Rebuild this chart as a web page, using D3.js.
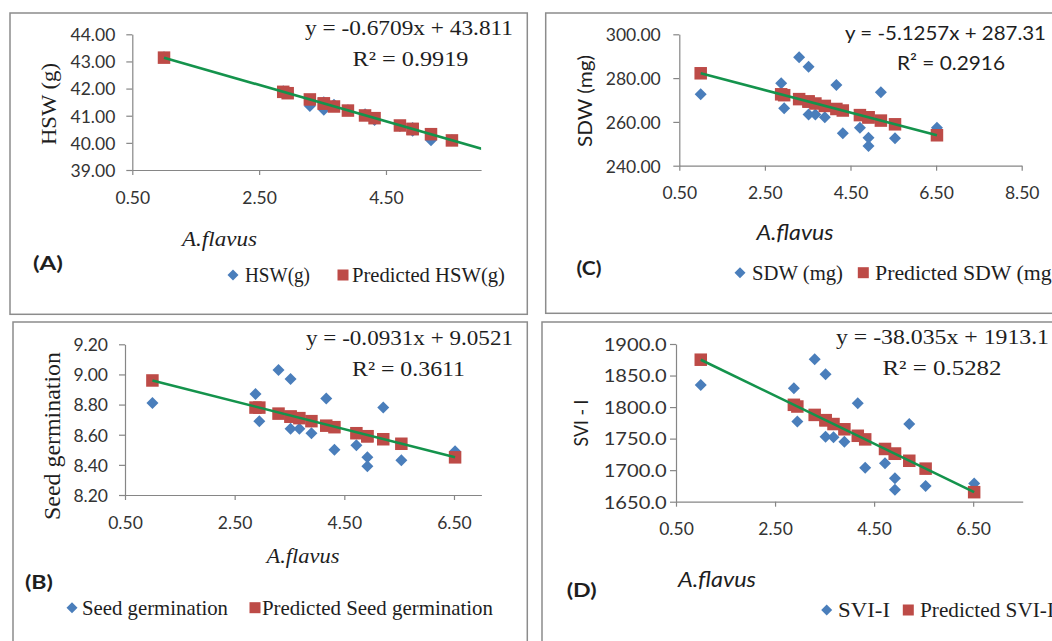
<!DOCTYPE html>
<html><head><meta charset="utf-8">
<script src="https://cdn.jsdelivr.net/npm/d3@7"></script>
<style>body{margin:0;background:#fff;overflow:hidden} svg{display:block}</style>
</head><body><svg id="c" width="1052" height="641"></svg>
<script>
// ---- data ----
const xFlavus = [1.00, 2.88, 2.95, 3.30, 3.52, 3.52, 3.68, 3.90, 4.17, 4.32, 4.72, 4.92, 4.92, 5.21, 5.54, 6.52];

const hswObserved  = [43.15, 41.90, 41.85, 41.36, 41.50, 41.22, 41.40, 41.20, 41.05, 40.84, 40.62, 40.55, 40.45, 40.10, 40.10, 39.45];
const hswPredicted = [43.14, 41.88, 41.83, 41.60, 41.45, 41.45, 41.34, 41.19, 41.01, 40.91, 40.64, 40.51, 40.51, 40.32, 40.09, 39.44];
const hswTrend     = [43.14, 39.44];

const germObserved  = [8.81, 8.87, 8.69, 9.03, 8.97, 8.64, 8.64, 8.61, 8.84, 8.50, 8.53, 8.45, 8.39, 8.78, 8.43, 8.49];
const germPredicted = [8.96, 8.78, 8.78, 8.74, 8.72, 8.72, 8.71, 8.69, 8.66, 8.65, 8.61, 8.59, 8.59, 8.57, 8.54, 8.45];
const germTrend     = [8.96, 8.45];

const sdwObserved  = [272.6, 277.6, 266.2, 289.5, 285.2, 263.4, 263.4, 262.1, 276.8, 254.8, 257.3, 252.8, 249.0, 273.5, 252.5, 257.3];
const sdwPredicted = [282.2, 272.6, 272.2, 270.4, 269.3, 269.3, 268.4, 267.3, 265.9, 265.2, 263.1, 262.1, 262.1, 260.6, 258.9, 253.9];
const sdwTrend     = [282.2, 253.9];

const sviObserved  = [1835, 1830, 1777, 1876, 1852, 1753, 1752, 1745, 1806, 1704, 1711, 1687, 1669, 1773, 1675, 1679];
const sviPredicted = [1875.1, 1803.6, 1800.9, 1787.6, 1779.2, 1779.2, 1773.1, 1764.8, 1754.5, 1748.8, 1733.6, 1726.0, 1726.0, 1714.9, 1702.4, 1665.1];
const sviTrend     = [1875.1, 1665.1];
const trendX       = [1.00, 6.52];

const hswTicks  = [39, 40, 41, 42, 43, 44];
const germTicks = [8.2, 8.4, 8.6, 8.8, 9.0, 9.2];
const sdwTicks  = [240, 260, 280, 300];
const sviTicks  = [1650, 1700, 1750, 1800, 1850, 1900];
const xTicksA = [0.5, 2.5, 4.5];
const xTicksB = [0.5, 2.5, 4.5, 6.5];
const xTicksC = [0.5, 2.5, 4.5, 6.5, 8.5];
const xTicksD = [0.5, 2.5, 4.5, 6.5];

// ---- styles ----
const SERIF = "'Liberation Serif','Times New Roman',serif";
const SANS = "Lato,'Open Sans',sans-serif";
const BLUE = "#4a7ebb", RED = "#bd4b47", GREEN = "#14934c", AXIS = "#868686";

const svg = d3.select("#c");

const panels = [
 {box:[10,13,527.3,314.3], xr:[132.3,481.1], yr:[170,34.3], xd:[0.5,6.0], yd:[39,44],
  xt:xTicksA, yt:hswTicks, yfmt:d3.format(".2f"), ypad:11, xlab:28,
  obs:hswObserved, pred:hswPredicted, trend:hswTrend,
  texts:[
   {t:"y = -0.6709x + 43.811", x:513, y:27, a:"end", f:SERIF, s:22, w:208},
   {t:"R² = 0.9919", x:410.5, y:58, a:"middle", f:SERIF, s:22, w:116},
   {t:"HSW (g)", x:48, y:104, a:"middle", f:SERIF, s:22, rot:true, w:82},
   {t:"A.flavus", x:219.5, y:238, a:"middle", f:SERIF, s:22, it:true, w:75},
   {t:"(A)", x:48, y:263, a:"middle", f:SANS, s:19, b:true, w:30},
   {t:"HSW(g)", x:245, y:275, a:"start", f:SERIF, s:21, w:65},
   {t:"Predicted HSW(g)", x:352, y:275, a:"start", f:SERIF, s:21, w:153}
  ], leg:[233,275,343]},
 {box:[13,322,527.3,660], xr:[125,481.4], yr:[495,344.3], xd:[0.5,7.0], yd:[8.2,9.2],
  xt:xTicksB, yt:germTicks, yfmt:d3.format(".2f"), ypad:11, xlab:28,
  obs:germObserved, pred:germPredicted, trend:germTrend,
  texts:[
   {t:"y = -0.0931x + 9.0521", x:513, y:337, a:"end", f:SERIF, s:22, w:207},
   {t:"R² = 0.3611", x:408.5, y:368, a:"middle", f:SERIF, s:22, w:113},
   {t:"Seed germination", x:52, y:436, a:"middle", f:SERIF, s:23.5, rot:true, w:168},
   {t:"A.flavus", x:303, y:555, a:"middle", f:SERIF, s:22, it:true, w:73},
   {t:"(B)", x:39, y:582, a:"middle", f:SANS, s:19, b:true, w:28},
   {t:"Seed germination", x:82, y:607.7, a:"start", f:SERIF, s:21, w:146},
   {t:"Predicted Seed germination", x:262, y:607.7, a:"start", f:SERIF, s:21, w:231}
  ], leg:[72,607.7,255]},
 {box:[545.7,13,1060,313.3], xr:[679.3,1021.7], yr:[165.7,34.3], xd:[0.5,8.5], yd:[240,300],
  xt:xTicksC, yt:sdwTicks, yfmt:d3.format(".2f"), ypad:12.6, xlab:27,
  obs:sdwObserved, pred:sdwPredicted, trend:sdwTrend,
  texts:[
   {t:"y = -5.1257x + 287.31", x:845, y:33, a:"start", f:SANS, s:20, w:201},
   {t:"R² = 0.2916", x:951, y:63, a:"middle", f:SANS, s:20, w:108},
   {t:"SDW (mg)", x:585, y:101, a:"middle", f:SANS, s:20, rot:true, w:92},
   {t:"A.flavus", x:795, y:233, a:"middle", f:SANS, s:21, it:true, w:77},
   {t:"(C)", x:589, y:268, a:"middle", f:SANS, s:19, b:true, w:25},
   {t:"SDW (mg)", x:752, y:272.7, a:"start", f:SERIF, s:21, w:91},
   {t:"Predicted SDW (mg)", x:875, y:272.7, a:"start", f:SERIF, s:21, w:184}
  ], leg:[740,272.7,863.3]},
 {box:[542,322,1060,660], xr:[676,1022.7], yr:[501.7,344], xd:[0.5,7.5], yd:[1650,1900],
  xt:xTicksD, yt:sviTicks, yfmt:d3.format(".1f"), ypad:3.3, xlab:27, ytw:63,
  obs:sviObserved, pred:sviPredicted, trend:sviTrend,
  texts:[
   {t:"y = -38.035x + 1913.1", x:1049, y:336.7, a:"end", f:SERIF, s:22, w:213},
   {t:"R² = 0.5282", x:942, y:367.3, a:"middle", f:SERIF, s:22, w:119},
   {t:"SVI - I", x:581.7, y:423, a:"middle", f:SANS, s:19, rot:true, w:47},
   {t:"A.flavus", x:717, y:579.3, a:"middle", f:SANS, s:21, it:true, w:78},
   {t:"(D)", x:581.7, y:590, a:"middle", f:SANS, s:19, b:true, w:30},
   {t:"SVI-I", x:838, y:610, a:"start", f:SERIF, s:21, w:52},
   {t:"Predicted SVI-I", x:920, y:610, a:"start", f:SERIF, s:21, w:134}
  ], leg:[826.7,610,908.3]}
];

const diamond = r => `M0,${-r}L${r},0L0,${r}L${-r},0Z`;

panels.forEach((p, i) => {
  const g = svg.append("g");
  g.append("rect").attr("x", p.box[0]).attr("y", p.box[1])
    .attr("width", p.box[2] - p.box[0]).attr("height", p.box[3] - p.box[1])
    .attr("fill", "none").attr("stroke", "#8c8c8c").attr("stroke-width", 1.5);

  const x = d3.scaleLinear().domain(p.xd).range(p.xr);
  const y = d3.scaleLinear().domain(p.yd).range(p.yr);

  const xa = g.append("g").attr("transform", `translate(0,${p.yr[0]})`)
    .call(d3.axisBottom(x).tickValues(p.xt).tickFormat(d3.format(".2f")).tickSizeInner(5).tickSizeOuter(0));
  const ya = g.append("g").attr("transform", `translate(${p.xr[0]},0)`)
    .call(d3.axisLeft(y).tickValues(p.yt).tickFormat(p.yfmt).tickSizeInner(6).tickSizeOuter(0));
  [xa, ya].forEach(a => {
    a.select(".domain").attr("stroke", AXIS).attr("stroke-width", 1.2);
    a.selectAll(".tick line").attr("stroke", AXIS).attr("stroke-width", 1.2);
    a.selectAll("text").attr("font-family", SANS).attr("font-size", 17.5).attr("fill", "#333");
  });
  xa.selectAll("text").attr("y", p.xlab).attr("dy", "0.36em");
  ya.selectAll("text").attr("x", -(6 + p.ypad)).attr("dy", "0.36em");
  if (p.ytw) ya.selectAll("text").attr("textLength", p.ytw).attr("lengthAdjust", "spacingAndGlyphs");

  const inDom = d => d[0] >= p.xd[0] && d[0] <= p.xd[1] && d[1] >= p.yd[0] && d[1] <= p.yd[1];
  g.selectAll(".obs").data(d3.zip(xFlavus, p.obs).filter(inDom)).join("path")
    .attr("class", "obs").attr("d", diamond(6)).attr("fill", BLUE)
    .attr("transform", d => `translate(${x(d[0])},${y(d[1])})`);
  g.selectAll(".pred").data(d3.zip(xFlavus, p.pred).filter(inDom)).join("rect")
    .attr("class", "pred").attr("width", 12.5).attr("height", 12.5).attr("fill", RED)
    .attr("x", d => x(d[0]) - 6.25).attr("y", d => y(d[1]) - 6.25);

  const cid = "clip" + i;
  svg.append("clipPath").attr("id", cid).append("rect")
    .attr("x", p.xr[0]).attr("y", p.yr[1]).attr("width", p.xr[1] - p.xr[0]).attr("height", p.yr[0] - p.yr[1]);
  g.append("path").datum(d3.zip(trendX, p.trend)).attr("clip-path", `url(#${cid})`)
    .attr("d", d3.line().x(d => x(d[0])).y(d => y(d[1])))
    .attr("fill", "none").attr("stroke", GREEN).attr("stroke-width", 2.6);

  // legend markers
  g.append("path").attr("d", diamond(5.5)).attr("fill", BLUE).attr("transform", `translate(${p.leg[0]},${p.leg[1]})`);
  g.append("rect").attr("x", p.leg[2] - 5.5).attr("y", p.leg[1] - 5.5).attr("width", 11).attr("height", 11).attr("fill", RED);

  p.texts.forEach(t => {
    const el = g.append("text").text(t.t)
      .attr("font-family", t.f).attr("font-size", t.s).attr("fill", "#1e1e1e")
      .attr("text-anchor", t.a).attr("dy", "0.35em")
      .attr("font-style", t.it ? "italic" : null).attr("font-weight", t.b ? "bold" : null);
    if (t.rot) el.attr("transform", `translate(${t.x},${t.y}) rotate(-90)`);
    else el.attr("x", t.x).attr("y", t.y);
    if (t.w) el.attr("textLength", t.w).attr("lengthAdjust", "spacingAndGlyphs");
  });
});
</script></body></html>
